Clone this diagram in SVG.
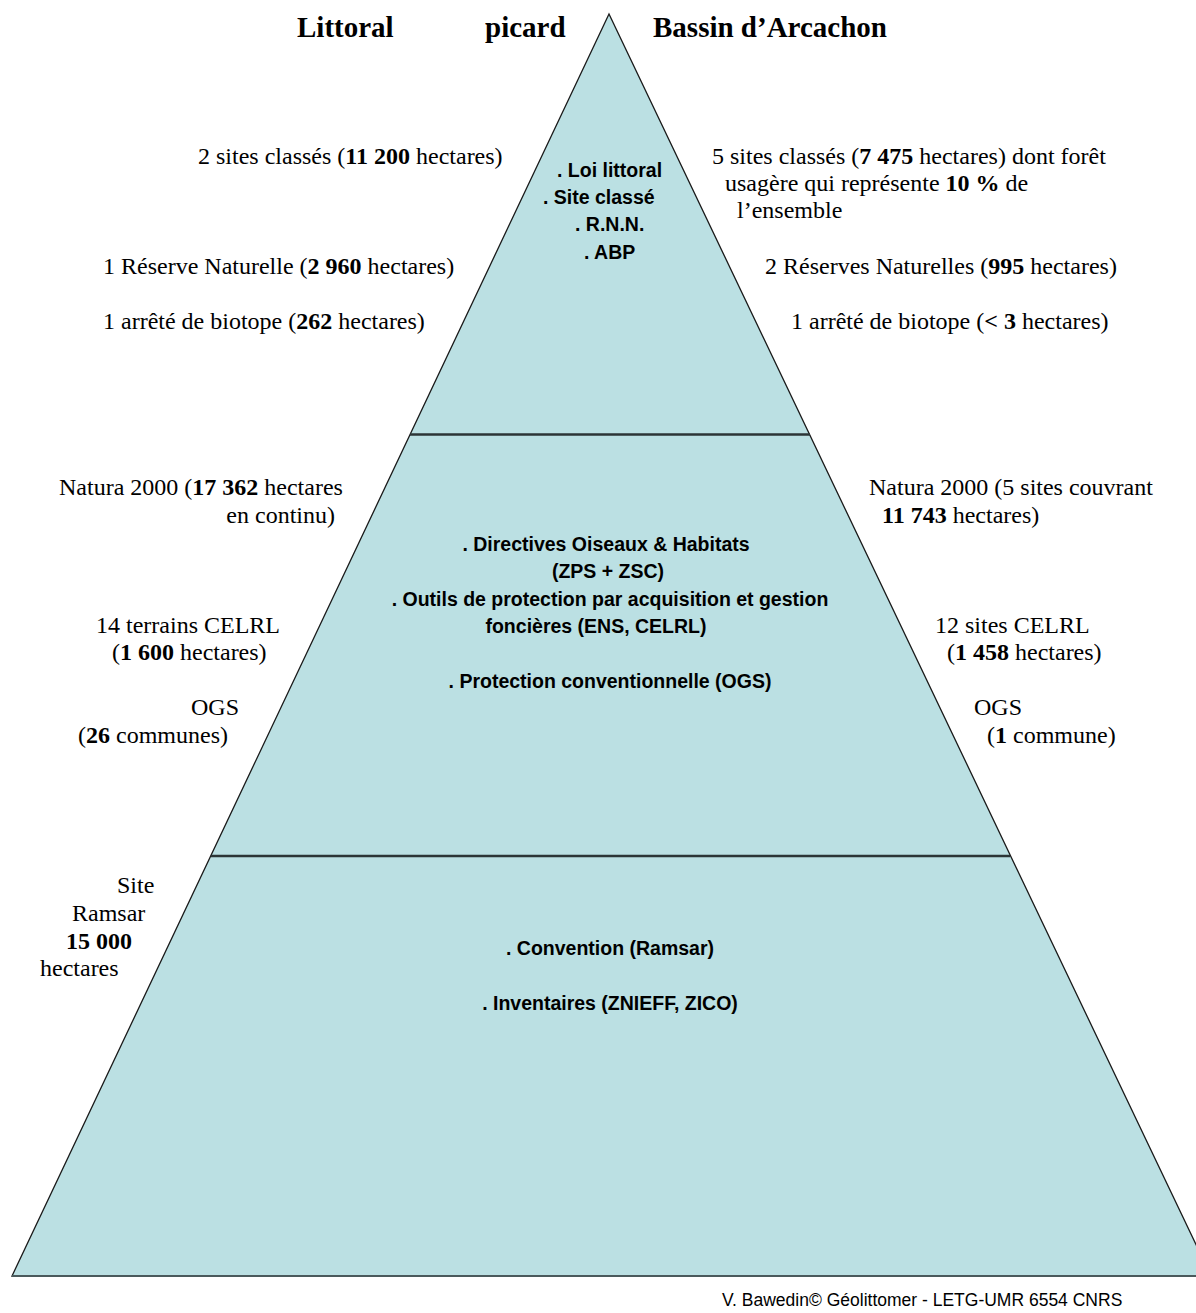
<svg xmlns="http://www.w3.org/2000/svg" width="1196" height="1313" viewBox="0 0 1196 1313">
<style>
.s{font-family:"Liberation Serif","Times New Roman",serif;font-size:24px;fill:#000}
.t{font-family:"Liberation Serif","Times New Roman",serif;font-size:29px;font-weight:bold;fill:#000}
.a{font-family:"Liberation Sans",Arial,sans-serif;font-size:19.5px;font-weight:bold;fill:#000}
.f{font-family:"Liberation Sans",Arial,sans-serif;font-size:17.5px;fill:#000}
.b{font-weight:bold}
.div{stroke:#2b3536;stroke-width:2.5}
</style>
<rect width="1196" height="1313" fill="#fff"/>
<g id="pyramid">
<polygon points="609,14 12,1276 1211,1276" fill="#BBE0E3" stroke="#1a1a1a" stroke-width="1.3"/>
<line x1="12" y1="1276" x2="1211" y2="1276" stroke="#4a5a5c" stroke-width="2.2"/>
</g>
<g id="connectors">
<line class="div" x1="410" y1="434.5" x2="810" y2="434.5"/>
<line class="div" x1="211" y1="856" x2="1010" y2="856"/>
</g>
<g id="titles">
<text class="t" x="297" y="37">Littoral</text>
<text class="t" x="485" y="37">picard</text>
<text class="t" x="653" y="37">Bassin d’Arcachon</text>
</g>
<g id="tier1">
<text class="a" x="557" y="177">. Loi littoral</text>
<text class="a" x="543" y="204">. Site classé</text>
<text class="a" x="575" y="231">. R.N.N.</text>
<text class="a" x="584" y="259">. ABP</text>
</g>
<g id="tier2">
<text class="a" x="606" y="551" text-anchor="middle">. Directives Oiseaux &amp; Habitats</text>
<text class="a" x="608" y="578" text-anchor="middle">(ZPS + ZSC)</text>
<text class="a" x="610" y="606" text-anchor="middle">. Outils de protection par acquisition et gestion</text>
<text class="a" x="596" y="633" text-anchor="middle">foncières (ENS, CELRL)</text>
<text class="a" x="610" y="688" text-anchor="middle">. Protection conventionnelle (OGS)</text>
</g>
<g id="tier3">
<text class="a" x="610" y="955" text-anchor="middle">. Convention (Ramsar)</text>
<text class="a" x="610" y="1010" text-anchor="middle">. Inventaires (ZNIEFF, ZICO)</text>
</g>
<g id="left-labels">
<text class="s" x="198" y="164">2 sites classés (<tspan class="b">11 200</tspan> hectares)</text>
<text class="s" x="103" y="274">1 Réserve Naturelle (<tspan class="b">2 960</tspan> hectares)</text>
<text class="s" x="103" y="329">1 arrêté de biotope (<tspan class="b">262</tspan> hectares)</text>
<text class="s" x="59" y="495">Natura 2000 (<tspan class="b">17 362</tspan> hectares</text>
<text class="s" x="335" y="523" text-anchor="end">en continu)</text>
<text class="s" x="96" y="633">14 terrains CELRL</text>
<text class="s" x="112" y="660">(<tspan class="b">1 600</tspan> hectares)</text>
<text class="s" x="191" y="715">OGS</text>
<text class="s" x="78" y="743">(<tspan class="b">26</tspan> communes)</text>
<text class="s" x="117" y="893">Site</text>
<text class="s" x="72" y="921">Ramsar</text>
<text class="s b" x="66" y="949">15 000</text>
<text class="s" x="40" y="976">hectares</text>
</g>
<g id="right-labels">
<text class="s" x="712" y="164">5 sites classés (<tspan class="b">7 475</tspan> hectares) dont forêt</text>
<text class="s" x="725" y="191">usagère qui représente <tspan class="b">10 %</tspan> de</text>
<text class="s" x="737" y="218">l’ensemble</text>
<text class="s" x="765" y="274">2 Réserves Naturelles (<tspan class="b">995</tspan> hectares)</text>
<text class="s" x="791" y="329">1 arrêté de biotope (<tspan class="b">&lt; 3</tspan> hectares)</text>
<text class="s" x="869" y="495">Natura 2000 (5 sites couvrant</text>
<text class="s" x="882" y="523"><tspan class="b">11 743</tspan> hectares)</text>
<text class="s" x="935" y="633">12 sites CELRL</text>
<text class="s" x="947" y="660">(<tspan class="b">1 458</tspan> hectares)</text>
<text class="s" x="974" y="715">OGS</text>
<text class="s" x="987" y="743">(<tspan class="b">1</tspan> commune)</text>
</g>
<g id="credit">
<text class="f" x="722" y="1306">V. Bawedin© Géolittomer - LETG-UMR 6554 CNRS</text>
</g>
</svg>
